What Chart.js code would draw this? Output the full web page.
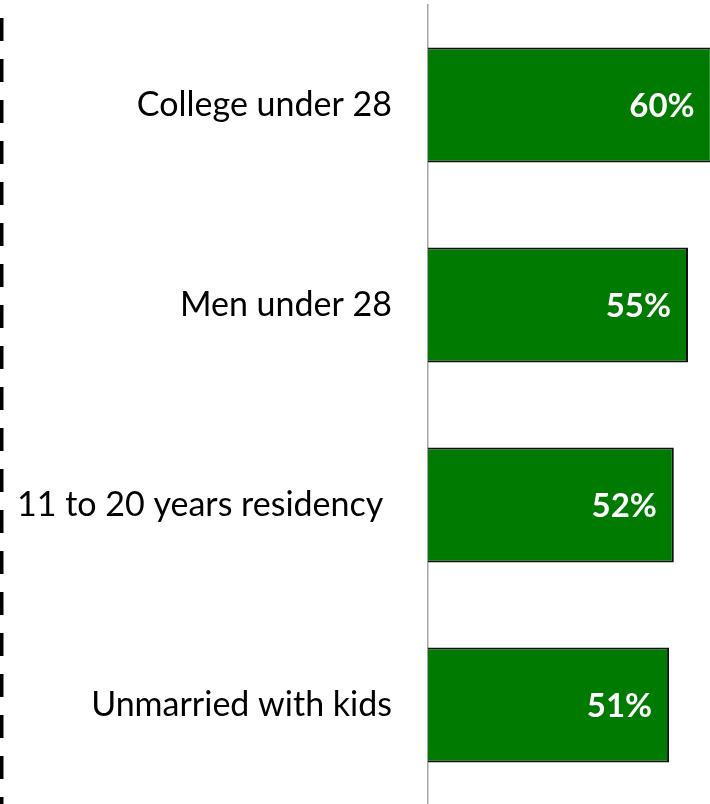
<!DOCTYPE html>
<html>
<head>
<meta charset="utf-8">
<script src="https://cdn.jsdelivr.net/npm/chart.js@4"></script>
<style>
  html, body { margin: 0; padding: 0; background: #fff; overflow: hidden; }
  canvas { display: block; }
</style>
</head>
<body>
<canvas id="barChart" width="714" height="805"></canvas>
<script>
// Chart data
const groups = ['College under 28', 'Men under 28', '11 to 20 years residency ', 'Unmarried with kids'];
const shares = [60, 55, 52, 51];

// Dashed line down the left edge
const leftDash = {
    id: 'leftDash',
    beforeDraw(chart) {
        const ctx = chart.ctx;
        ctx.save();
        ctx.strokeStyle = '#000';
        ctx.lineWidth = 3.5;
        ctx.setLineDash([23, 18]);
        ctx.beginPath();
        ctx.moveTo(1.75, 18);
        ctx.lineTo(1.75, chart.height);
        ctx.stroke();
        ctx.restore();
    }
};

// White percentage labels inside the end of each bar
const valueLabels = {
    id: 'valueLabels',
    afterDatasetsDraw(chart) {
        const ctx = chart.ctx;
        const meta = chart.getDatasetMeta(0);
        ctx.save();
        ctx.fillStyle = '#fff';
        ctx.font = 'bold 33px Lato';
        ctx.textAlign = 'right';
        ctx.textBaseline = 'middle';
        meta.data.forEach((bar, i) => {
            ctx.fillText(shares[i] + '%', bar.x - 17, bar.y + 1);
        });
        ctx.restore();
    }
};

const ctx = document.getElementById('barChart').getContext('2d');
new Chart(ctx, {
    type: 'bar',
    data: {
        labels: groups,
        datasets: [{
            data: shares,
            backgroundColor: '#007a00',
            borderColor: '#111',
            borderWidth: 2,
            barPercentage: 0.575,
            categoryPercentage: 1
        }]
    },
    options: {
        indexAxis: 'y',
        responsive: false,
        animation: false,
        layout: { padding: { top: 5, left: 0, right: 0, bottom: 0 } },
        plugins: {
            legend: { display: false },
            tooltip: { enabled: false }
        },
        scales: {
            x: {
                display: false,
                min: 0,
                max: 60.5
            },
            y: {
                afterFit: (scale) => {
                    scale.width = 428;
                    scale.paddingTop = 0;
                    scale.paddingBottom = 0;
                },
                grid: { display: false },
                border: { display: true, color: '#a6a6a6', width: 1.5 },
                ticks: {
                    color: '#000',
                    padding: 28,
                    font: { family: 'Lato', size: 34 }
                }
            }
        }
    },
    plugins: [leftDash, valueLabels]
});
</script>
</body>
</html>
